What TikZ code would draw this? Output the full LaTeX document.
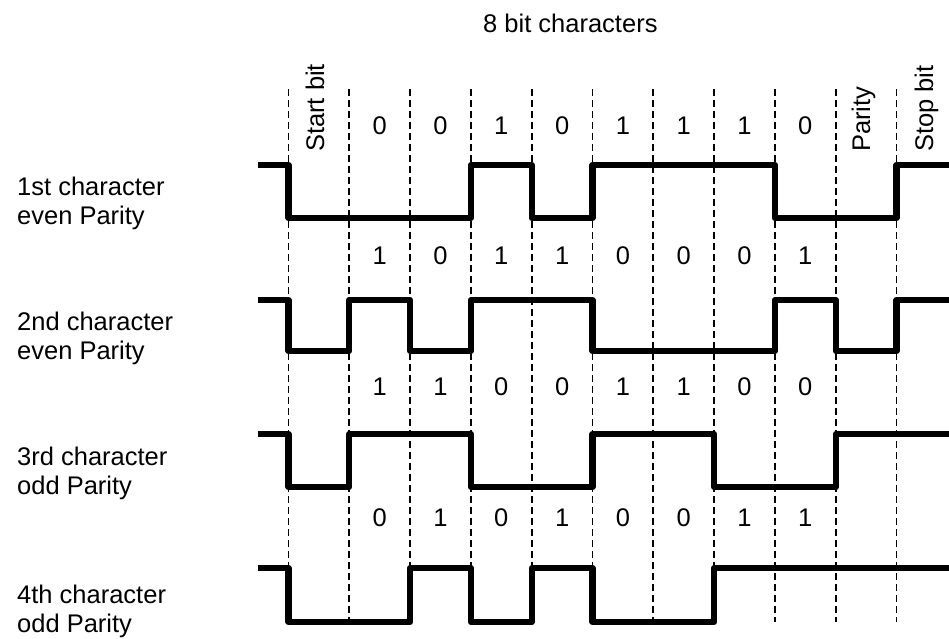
\documentclass[tikz,border=0pt]{standalone}
\usepackage{fontspec}
\setmainfont{Liberation Sans}
\newcommand\wavesig[3]{%
  \draw[wave] (258,#1) \foreach \l [count=\k from 0] in {#3} { -| ({288.5+60.8*\k},{#2-\l*(#2-#1)}) } -- (949,#1);}
\begin{document}
\begin{tikzpicture}[x=1pt,y=-1pt,
  wave/.style={line width=6.3pt, line join=round},
  gridline/.style={line width=1.8pt, dash pattern=on 7pt off 4pt},
  lbl/.style={inner sep=0pt, font=\fontsize{25.5}{30}\selectfont}]
\useasboundingbox (0,0) rectangle (949,638);

% dashed bit boundaries
\foreach \k in {0,...,10} {
  \coordinate (t\k) at ({288.5+60.8*\k},89);
  \coordinate (u\k) at ({288.5+60.8*\k},622);
  \draw[gridline] (t\k) -- (u\k);
}

% waveforms (levels: start, 8 data bits, parity, stop)
\wavesig{165}{218}{0,0,0,1,0,1,1,1,0,0,1}
\wavesig{300}{351}{0,1,0,1,1,0,0,0,1,0,1}
\wavesig{434}{487}{0,1,1,0,0,1,1,0,0,1,1}
\wavesig{568}{622}{0,0,1,0,1,0,0,1,1,1,1}

% bit labels
\foreach \v [count=\k] in {0,0,1,0,1,1,1,0}
  \node[lbl,anchor=base] (ra\k) at ({288.5+60.8*(\k+0.5)},134) {\v};
\foreach \v [count=\k] in {1,0,1,1,0,0,0,1}
  \node[lbl,anchor=base] (rb\k) at ({288.5+60.8*(\k+0.5)},264) {\v};
\foreach \v [count=\k] in {1,1,0,0,1,1,0,0}
  \node[lbl,anchor=base] (rc\k) at ({288.5+60.8*(\k+0.5)},395) {\v};
\foreach \v [count=\k] in {0,1,0,1,0,0,1,1}
  \node[lbl,anchor=base] (rd\k) at ({288.5+60.8*(\k+0.5)},526) {\v};

% title
\node[lbl,anchor=base west] (title) at (483,32) {8 bit characters};

% rotated headers
\node[lbl,rotate=90,anchor=base west] (start) at (324,152) {Start bit};
\node[lbl,rotate=90,anchor=base west] (parity) at (870,152) {Parity};
\node[lbl,rotate=90,anchor=base west] (stop) at (933,152) {Stop bit};

% row labels
\node[lbl,anchor=base west] (l1a) at (17,195) {1st character};
\node[lbl,anchor=base west] (l1b) at (17,224.5) {even Parity};
\node[lbl,anchor=base west] (l2a) at (17,330) {2nd character};
\node[lbl,anchor=base west] (l2b) at (17,359.5) {even Parity};
\node[lbl,anchor=base west] (l3a) at (17,465) {3rd character};
\node[lbl,anchor=base west] (l3b) at (17,494.5) {odd Parity};
\node[lbl,anchor=base west] (l4a) at (17,603) {4th character};
\node[lbl,anchor=base west] (l4b) at (17,632.5) {odd Parity};
\end{tikzpicture}
\end{document}
